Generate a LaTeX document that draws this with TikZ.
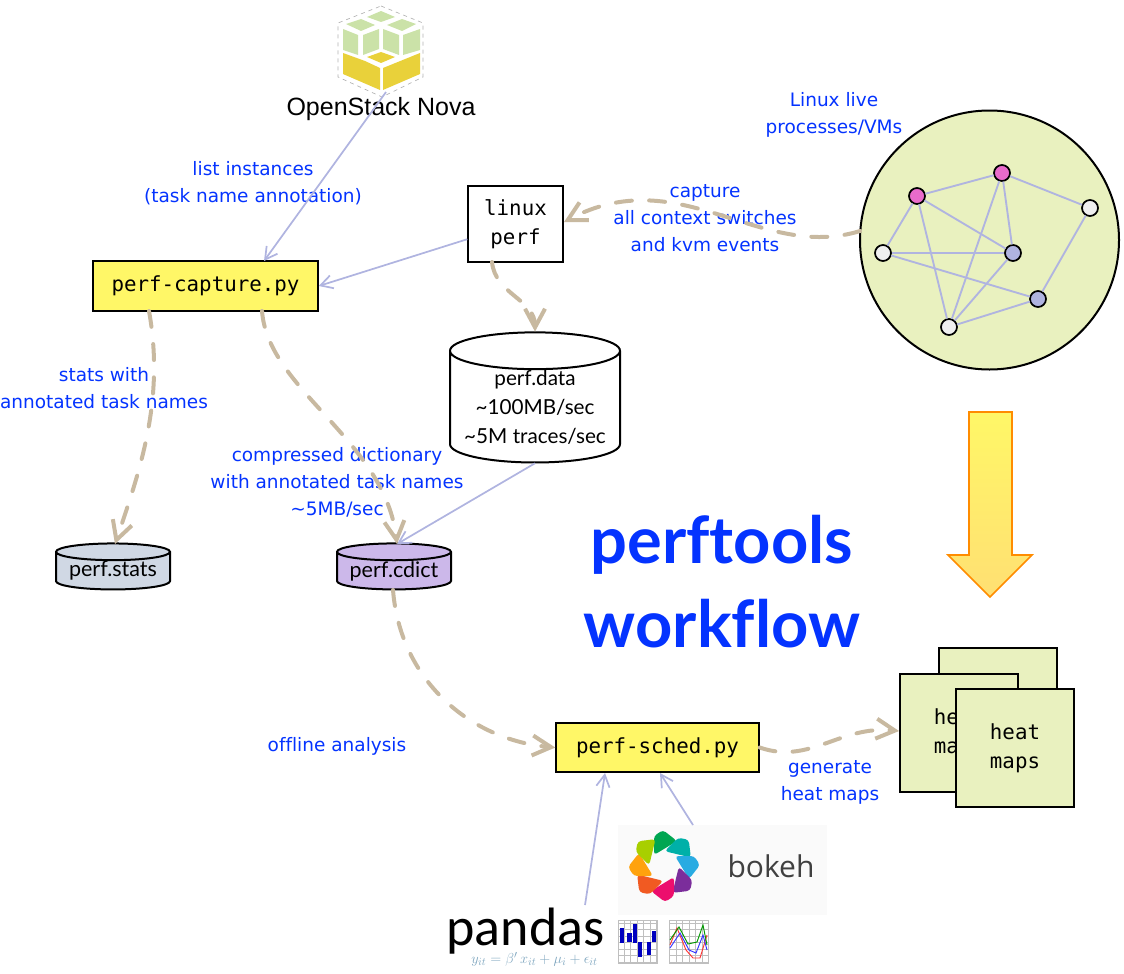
\documentclass[tikz,border=0pt]{standalone}
\usepackage{fontspec}
\usepackage{amsmath}
\usetikzlibrary{arrows.meta,shapes.geometric}
\setmainfont{Lato}[Ligatures=NoCommon]
\newfontfamily\handFont{DejaVu Sans}[Ligatures=NoCommon]
\newfontfamily\monoFont{DejaVu Sans Mono}
\newfontfamily\helvFont{Liberation Sans}
\newfontfamily\pandasFont{Carlito}
\newfontfamily\bokehFont{Open Sans}
\definecolor{labelBlue}{HTML}{0433FF}
\definecolor{edgeBlue}{HTML}{B0B4E0}
\definecolor{flowTan}{HTML}{C8B9A0}
\definecolor{paleGreen}{HTML}{E9F1BF}
\definecolor{boxYellow}{HTML}{FFF767}
\definecolor{stackGreen}{HTML}{CBE2A8}
\definecolor{stackYellow}{HTML}{E9D13A}
\definecolor{statsFill}{HTML}{D0D8E4}
\definecolor{cdictFill}{HTML}{CCB8EA}
\definecolor{vmPink}{HTML}{E96BCB}
\definecolor{vmWhite}{HTML}{EFEFEF}
\definecolor{eqBlue}{HTML}{7FA6BF}
\definecolor{petalGreen}{HTML}{00A651}
\definecolor{petalTeal}{HTML}{00B0A8}
\definecolor{petalSky}{HTML}{29ABE2}
\definecolor{petalPurple}{HTML}{7B2D9B}
\definecolor{petalPink}{HTML}{EC0E6D}
\definecolor{petalRed}{HTML}{F15A22}
\definecolor{petalOrange}{HTML}{FFA20D}
\definecolor{petalLime}{HTML}{A8CF00}
\newcommand{\diagramScale}[0]{0.75}
\newcommand{\handLabel}[3]{\node[hand label] (#1) at (#2) {#3};}
\newcommand{\bokehPetal}[2]{\fill[#2, shift={(664,-866)}, rotate=#1, rounded corners=2.5] (-10,11) -- (-10,30) -- (-1,36) -- (13,25) -- cycle;}

\begin{document}
\begin{tikzpicture}[x=1pt, y=1pt, scale=\diagramScale, transform shape]
  \tikzset{
    hand label/.style={align=center, text=labelBlue, font=\handFont\fontsize{18.5}{27}\selectfont},
    script box/.style={draw, line width=1.5pt, fill=boxYellow, font=\monoFont\fontsize{20.8}{27}\selectfont},
    data store/.style={draw, line width=1.5pt, cylinder, shape border rotate=90, cylinder uses custom fill, inner sep=0pt},
    map sheet/.style={draw, line width=1.5pt, fill=paleGreen, minimum size=118, inner sep=0pt, align=center, font=\monoFont\fontsize{20.8}{29}\selectfont},
    vm node/.style={circle, draw, line width=1.3pt, minimum size=16, inner sep=0pt},
    data edge/.style={draw=edgeBlue, line width=1.3pt, -{Straight Barb[length=9pt, width=10pt]}},
    vm edge/.style={draw=edgeBlue, line width=1.4pt},
    flow/.style={draw=flowTan, line width=3pt, line cap=round, dash pattern=on 12pt off 13pt, -{Straight Barb[length=14pt, width=15pt]}}
  }
  \useasboundingbox (0,-974) rectangle (1124,0);

  \draw[gray!60, dashed, line width=0.5pt] (381,-6) -- (423,-23) -- (423,-77) -- (382,-97) -- (338,-77) -- (338,-23) -- cycle;
  \fill[stackGreen] (381,-11) -- (395,-17) -- (381,-22) -- (367,-17) -- cycle;
  \fill[stackGreen] (346,-24) -- (361,-19) -- (375,-25) -- (361,-31) -- cycle;
  \fill[stackGreen] (387,-25) -- (402,-19) -- (416,-24) -- (402,-31) -- cycle;
  \fill[stackGreen] (343,-29) -- (358,-35) -- (358,-55) -- (343,-50) -- cycle;
  \fill[stackGreen] (363,-35) -- (379,-29) -- (379,-49) -- (363,-55) -- cycle;
  \fill[stackGreen] (383,-29) -- (399,-35) -- (399,-55) -- (383,-49) -- cycle;
  \fill[stackGreen] (403,-35) -- (420,-29) -- (420,-50) -- (403,-55) -- cycle;
  \fill[stackYellow] (343,-53) -- (365,-61) -- (380,-68) -- (380,-90) -- (343,-74) -- cycle;
  \fill[stackYellow] (383,-68) -- (420,-53) -- (420,-74) -- (383,-90) -- cycle;
  \fill[stackYellow] (367,-57) -- (381,-52) -- (395,-57) -- (381,-63) -- cycle;
  \node[font=\helvFont\fontsize{25}{27}\selectfont] (nova) at (381,-109) {OpenStack Nova};

  \node[script box, minimum width=225, minimum height=50] (capture) at (205.5,-286) {perf-capture.py};
  \node[draw, line width=1.5pt, minimum width=95, minimum height=76, align=center, font=\monoFont\fontsize{20.8}{29}\selectfont] (linux-perf) at (515.5,-224) {linux\\perf};
  \node[script box, minimum width=203, minimum height=49] (sched) at (657.5,-747.5) {perf-sched.py};

  \node[data store, minimum width=170, minimum height=116, aspect=0.26, align=center, font=\fontsize{20.7}{29}\selectfont] (perf-data) at (535,-407) {perf.data\\\textasciitilde100MB/sec\\\textasciitilde5M traces/sec};
  \node[data store, cylinder body fill=statsFill, cylinder end fill=statsFill, minimum width=114, minimum height=46, aspect=0.19, font=\fontsize{21.5}{27}\selectfont] (perf-stats) at (113,-571) {perf.stats};
  \node[data store, cylinder body fill=cdictFill, cylinder end fill=cdictFill, minimum width=114, minimum height=46, aspect=0.19, font=\fontsize{21.5}{27}\selectfont] (perf-cdict) at (394,-571) {perf.cdict};

  \node[circle, draw, line width=1.5pt, fill=paleGreen, minimum size=259, inner sep=0pt] (host) at (989.5,-240) {};
  \node[vm node, fill=vmPink] (vm-1) at (917,-196) {};
  \node[vm node, fill=vmPink] (vm-2) at (1002,-173) {};
  \node[vm node, fill=vmWhite] (vm-3) at (1090,-208) {};
  \node[vm node, fill=vmWhite] (vm-4) at (883,-253) {};
  \node[vm node, fill=edgeBlue] (vm-5) at (1013,-253) {};
  \node[vm node, fill=edgeBlue] (vm-6) at (1038,-299) {};
  \node[vm node, fill=vmWhite] (vm-7) at (949,-327) {};
  \draw[vm edge] (vm-1) -- (vm-2);
  \draw[vm edge] (vm-1) -- (vm-4);
  \draw[vm edge] (vm-1) -- (vm-5);
  \draw[vm edge] (vm-1) -- (vm-7);
  \draw[vm edge] (vm-2) -- (vm-3);
  \draw[vm edge] (vm-2) -- (vm-5);
  \draw[vm edge] (vm-2) -- (vm-7);
  \draw[vm edge] (vm-3) -- (vm-6);
  \draw[vm edge] (vm-4) -- (vm-5);
  \draw[vm edge] (vm-4) -- (vm-6);
  \draw[vm edge] (vm-5) -- (vm-7);
  \draw[vm edge] (vm-6) -- (vm-7);

  \draw[draw=orange!90!yellow, line width=1.2pt, top color=boxYellow, bottom color=orange!45!yellow!55!white] (969,-412) -- (1012,-412) -- (1012,-555) -- (1032,-555) -- (990,-597) -- (948,-555) -- (969,-555) -- cycle;

  \node[map sheet] (maps-back) at (998,-707) {};
  \node[map sheet] (maps-left) at (959,-733) {heat\\maps};
  \node[map sheet] (maps-front) at (1015,-748) {heat\\maps};

  \fill[white!98!black] (618,-825) rectangle (827,-915);
  \bokehPetal{0}{petalGreen}
  \bokehPetal{-45}{petalTeal}
  \bokehPetal{-90}{petalSky}
  \bokehPetal{-135}{petalPurple}
  \bokehPetal{-180}{petalPink}
  \bokehPetal{-225}{petalRed}
  \bokehPetal{-270}{petalOrange}
  \bokehPetal{-315}{petalLime}
  \node[font=\bokehFont\fontsize{30}{32}\selectfont, text=black!75] (bokeh) at (771,-866) {bokeh};

  \node[anchor=base, inner sep=0pt, font=\pandasFont\fontsize{54}{56}\selectfont] (pandas) at (525.5,-945) {pandas};
  \node[inner sep=0pt, text=eqBlue, font=\fontsize{15.3}{16}\selectfont] (pandas-eq) at (534.5,-959) {$y_{it}=\beta'\,x_{it}+\mu_i+\epsilon_{it}$};

  \draw[gray!50, fill=white, line width=0.6pt, step=6.5] (618,-963) grid (657,-920) rectangle (618,-963);
  \fill[blue!75!black] (619.5,-928) rectangle (623.5,-943);
  \fill[blue!75!black] (627,-933) rectangle (632,-942);
  \fill[blue!75!black] (633,-924) rectangle (637,-943);
  \fill[blue!75!black] (637.5,-942) rectangle (642,-957);
  \fill[blue!75!black] (647,-942) rectangle (651,-955);
  \fill[blue!75!black] (651.5,-931) rectangle (656,-942);
  \draw[gray!50, fill=white, line width=0.6pt, step=6.5] (669,-963) grid (708,-920) rectangle (669,-963);
  \draw[red!80, line width=0.7pt] (670,-945) -- (677,-928) -- (686,-950) -- (693,-958) -- (700,-958) -- (707,-935);
  \draw[green!60!black, line width=0.7pt] (670,-940) -- (679,-927) -- (688,-944) -- (697,-942) -- (703,-925) -- (707,-945);
  \draw[blue!80, line width=0.7pt] (670,-948) -- (680,-933) -- (689,-950) -- (696,-953) -- (703,-935) -- (707,-950);

  \handLabel{live-label}{834,-115}{Linux live\\processes/VMs}
  \handLabel{list-label}{253,-183.5}{list instances\\(task name annotation)}
  \handLabel{capture-label}{705,-218}{capture\\all context switches\\and kvm events}
  \handLabel{stats-label}{104,-388}{stats with\\annotated task names}
  \handLabel{cdict-label}{337,-482.5}{compressed dictionary\\with annotated task names\\\textasciitilde5MB/sec}
  \handLabel{offline-label}{337,-746.5}{offline analysis}
  \handLabel{maps-label}{830,-782}{generate\\heat maps}
  \node[align=center, text=labelBlue, font=\fontsize{65}{84}\selectfont\bfseries] (title) at (722,-582) {perftools\\workflow};

  \coordinate (nova-out) at (386,-92);
  \coordinate (capture-top) at (264,-261);
  \coordinate (capture-bottom-1) at (149,-311);
  \coordinate (capture-bottom-2) at (262,-311);
  \coordinate (perf-bottom) at (492,-262);
  \coordinate (host-left) at (860,-231);
  \coordinate (perf-right) at (564,-222);
  \coordinate (sched-in-1) at (605,-773);
  \coordinate (sched-in-2) at (660,-773);
  \coordinate (pandas-top) at (585,-905);
  \coordinate (bokeh-top) at (693,-825);
  \coordinate (stats-top) at (115,-544);
  \coordinate (cdict-top) at (397,-544);
  \coordinate (cdict-bottom) at (393,-590);
  \coordinate (maps-in) at (899,-731);

  \draw[data edge] (nova-out) -- (capture-top);
  \draw[data edge] (linux-perf) -- (capture.east);
  \draw[data edge] (perf-data.south) -- (cdict-top);
  \draw[data edge] (pandas-top) -- (sched-in-1);
  \draw[data edge] (bokeh-top) -- (sched-in-2);
  \draw[flow] (capture-bottom-1) .. controls (165,-400) and (140,-470) .. (stats-top);
  \draw[flow] (capture-bottom-2) .. controls (268,-390) and (385,-440) .. (cdict-top);
  \draw[flow] (perf-bottom) to[out=-85,in=90] (perf-data.north);
  \draw[flow] (host-left) .. controls (760,-262) and (680,-160) .. (perf-right);
  \draw[flow] (cdict-bottom) .. controls (400,-680) and (470,-740) .. (sched.west);
  \draw[flow] (sched.east) .. controls (810,-765) and (840,-725) .. (maps-in);
\end{tikzpicture}
\end{document}
